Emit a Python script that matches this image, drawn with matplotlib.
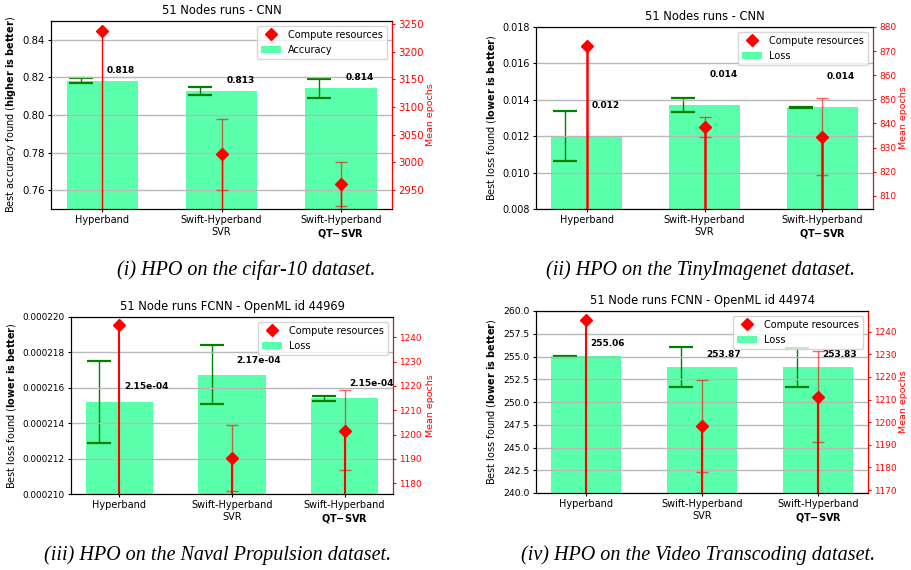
import numpy as np
import matplotlib
matplotlib.use('Agg')
import matplotlib.pyplot as plt
from matplotlib.ticker import MultipleLocator, FormatStrFormatter

nan = np.nan

methods = ['Hyperband', 'Swift-Hyperband\nSVR', 'Swift-Hyperband\n$\\bf{QT{-}SVR}$']

# (i) cifar-10
cifar_acc = [0.8183, 0.8130, 0.8142]
cifar_acc_lo = [0.8168, 0.8106, 0.8089]
cifar_acc_hi = [0.8195, 0.8147, 0.8194]
cifar_epochs = [3236.7, 3014.8, 2960.8]
cifar_epochs_lo = [nan, 2950.0, 2921.8]
cifar_epochs_hi = [nan, 3079.0, 2999.9]

# (ii) TinyImagenet
tiny_loss = [0.01201, 0.01371, 0.01360]
tiny_loss_lo = [0.01065, 0.01335, 0.01355]
tiny_loss_hi = [0.01338, 0.01408, 0.01362]
tiny_epochs = [872.1, 838.4, 834.5]
tiny_epochs_lo = [nan, 834.5, 818.7]
tiny_epochs_hi = [nan, 842.8, 850.6]

# (iii) Naval Propulsion
naval_loss = [2.152e-4, 2.167e-4, 2.154e-4]
naval_loss_lo = [2.129e-4, 2.151e-4, 2.1523e-4]
naval_loss_hi = [2.175e-4, 2.184e-4, 2.1555e-4]
naval_epochs = [1244.9, 1190.3, 1201.6]
naval_epochs_lo = [nan, 1176.6, 1185.2]
naval_epochs_hi = [nan, 1204.1, 1218.5]

# (iv) Video Transcoding
video_loss = [255.06, 253.87, 253.83]
video_loss_lo = [255.0, 251.68, 251.68]
video_loss_hi = [255.1, 256.08, 255.97]
video_epochs = [1245.2, 1198.3, 1211.3]
video_epochs_lo = [nan, 1178.1, 1191.2]
video_epochs_hi = [nan, 1218.7, 1231.4]

captions = ['(i) HPO on the cifar-10 dataset.',
            '(ii) HPO on the TinyImagenet dataset.',
            '(iii) HPO on the Naval Propulsion dataset.',
            '(iv) HPO on the Video Transcoding dataset.']

W, H = 911, 570
fig = plt.figure(figsize=(W / 100, H / 100), dpi=100)


def rect(l, r, t, b):
    return [l / W, 1 - b / H, (r - l) / W, (b - t) / H]


def draw_panel(box, title, metric_name, ylabel, vals, lo, hi, epochs, ep_lo, ep_hi,
               ylim, ystep, yfmt, ylim2, ystep2, valfmt, txt_off, vline_lw,
               lfs, rfs, lab_l, lab_r):
    ax = fig.add_axes(rect(*box))
    x = np.arange(len(methods))
    vals = np.array(vals)
    lo = np.array(lo)
    hi = np.array(hi)
    epochs = np.array(epochs)
    ep_lo = np.array(ep_lo)
    ep_hi = np.array(ep_hi)

    bars = ax.bar(x, vals, width=0.6, color='springgreen', alpha=0.65, label=metric_name)
    ax.errorbar(x - 0.18, (lo + hi) / 2, yerr=(hi - lo) / 2, fmt='none', ecolor='green',
                elinewidth=1, capsize=8.5, capthick=1.6)
    rng = ylim[1] - ylim[0]
    for xi, v in zip(x, vals):
        ax.text(xi + 0.04, v + txt_off * rng, valfmt % v, ha='left', va='center',
                fontsize=6.5, fontweight='bold')

    ax.set_ylim(*ylim)
    ax.yaxis.set_major_locator(MultipleLocator(ystep))
    ax.yaxis.set_major_formatter(FormatStrFormatter(yfmt))
    ax.set_xticks(x)
    ax.set_xticklabels(methods, fontsize=7)
    ax.tick_params(axis='both', length=2.5, pad=2)
    ax.tick_params(axis='y', labelsize=lfs)
    ax.set_title(title, fontsize=8.3, pad=5)
    ax.yaxis.grid(True, color='#b8b8b8', linewidth=1)
    ax.set_axisbelow(False)

    ax2 = ax.twinx()
    ax2.vlines(x, 0, epochs, color='red', linewidth=vline_lw)
    m = np.isfinite(ep_lo)
    ax2.errorbar(x[m], epochs[m], yerr=[epochs[m] - ep_lo[m], ep_hi[m] - epochs[m]],
                 fmt='none', ecolor='red', elinewidth=1, capsize=4.3, capthick=1, alpha=0.6)
    pts, = ax2.plot(x, epochs, 'D', color='red', markersize=6, linestyle='none',
                    label='Compute resources')
    ax2.set_ylim(*ylim2)
    ax2.yaxis.set_major_locator(MultipleLocator(ystep2))
    ax2.tick_params(axis='y', colors='red', labelsize=rfs, length=2.5, pad=2)
    ax2.spines['right'].set_color('red')

    # axis labels placed from pixel positions of their centres
    yc = 1 - (box[2] + box[3]) / 2 / H
    ax.set_ylabel(ylabel, fontsize=7)
    ax.yaxis.set_label_coords((lab_l + 5) / W, yc, transform=fig.transFigure)
    ax2.set_ylabel('Mean epochs', color='red', fontsize=6.8)
    ax2.yaxis.set_label_coords((lab_r - 5) / W, yc, transform=fig.transFigure)

    ax2.legend([pts, bars], ['Compute resources', metric_name], loc='upper right', fontsize=7)
    return ax, ax2


acc_label = 'Best accuracy found ($\\bf{higher\\ is\\ better}$)'
loss_label = 'Best loss found ($\\bf{lower\\ is\\ better}$)'

draw_panel((51, 392, 21, 209), '51 Nodes runs - CNN', 'Accuracy', acc_label,
           cifar_acc, cifar_acc_lo, cifar_acc_hi, cifar_epochs, cifar_epochs_lo, cifar_epochs_hi,
           (0.75, 0.85), 0.02, '%.2f', (2916, 3255), 50, '%.3f', 0.056, 1.0,
           7.3, 7.3, 13, 431)
draw_panel((536, 873, 27, 209), '51 Nodes runs - CNN', 'Loss', loss_label,
           tiny_loss, tiny_loss_lo, tiny_loss_hi, tiny_epochs, tiny_epochs_lo, tiny_epochs_hi,
           (0.008, 0.018), 0.002, '%.3f', (804.5, 880), 10, '%.3f', 0.167, 1.8,
           6.9, 6.4, 493, 904)
draw_panel((71, 393, 317, 494), '51 Node runs FCNN - OpenML id 44969', 'Loss', loss_label,
           naval_loss, naval_loss_lo, naval_loss_hi, naval_epochs, naval_epochs_lo, naval_epochs_hi,
           (0.000210, 0.000220), 0.000002, '%.6f', (1175.5, 1248.4), 10, '%.2e', 0.087, 1.5,
           6.4, 6.4, 13, 431)
draw_panel((536, 868, 311, 493), '51 Node runs FCNN - OpenML id 44974', 'Loss', loss_label,
           video_loss, video_loss_lo, video_loss_hi, video_epochs, video_epochs_lo, video_epochs_hi,
           (240, 260), 2.5, '%.1f', (1168.7, 1249.1), 10, '%.2f', 0.067, 1.5,
           6.7, 6.4, 493, 904)

cap_pos = [(246, 270), (700, 270), (218, 555), (698, 555)]
for (cx, cy), txt in zip(cap_pos, captions):
    fig.text(cx / W, 1 - cy / H, txt, ha='center', va='center', fontsize=14.5,
             family='Liberation Serif', style='italic')

fig.savefig('out.png', dpi=100)
